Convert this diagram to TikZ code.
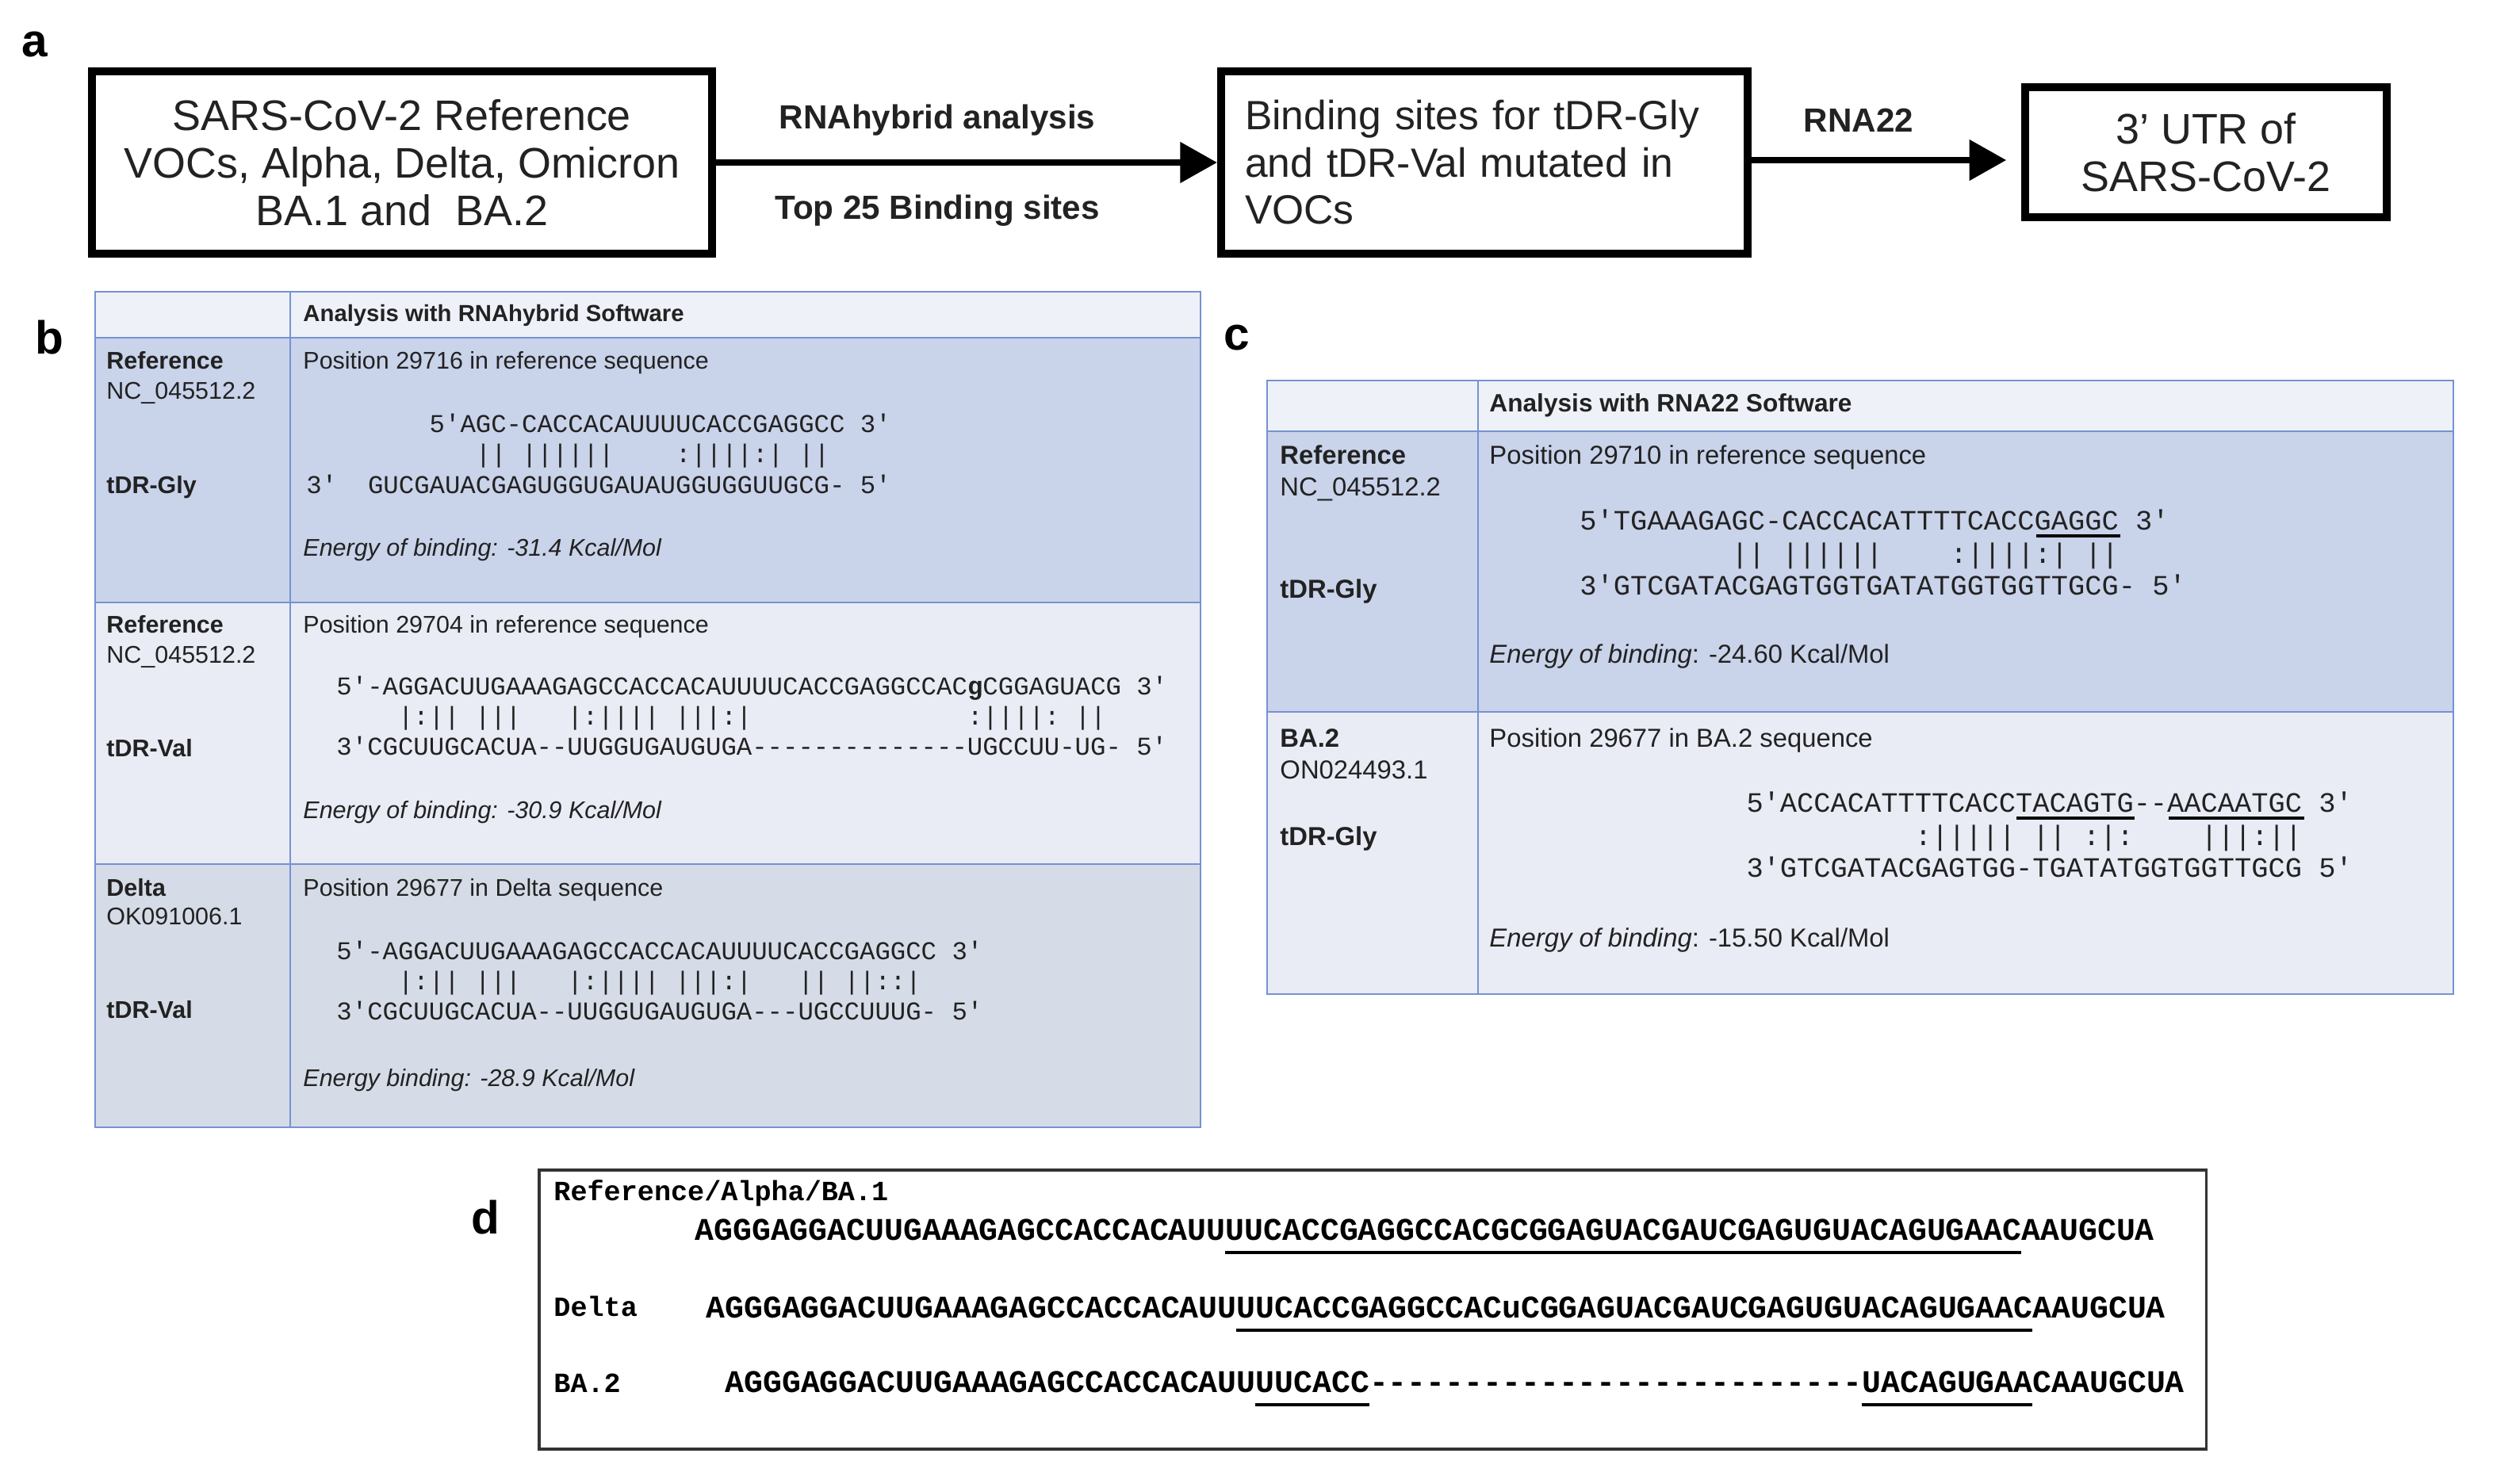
\documentclass[tikz,border=0pt]{standalone}
\usepackage{fontspec}
\setmainfont{Liberation Sans}
\setmonofont{Liberation Mono}
\usetikzlibrary{arrows.meta,calc}
\definecolor{bord}{HTML}{7592D2}
\definecolor{rowA}{HTML}{C9D3EA}
\definecolor{rowB}{HTML}{E9ECF5}
\definecolor{rowC}{HTML}{D6DCE7}
\definecolor{hdr}{HTML}{EFF1F8}
\definecolor{ink}{HTML}{222222}
\newcommand{\fs}[1]{\fontsize{#1}{1.2\dimexpr#1pt\relax}\selectfont}
\begin{document}
\begin{tikzpicture}[x=0.03cm,y=-0.03cm,
  bigbox/.style={draw=black,line width=4.3pt,minimum height=3.45cm,inner sep=0.2cm,font=\fs{23},text=ink},
  arr/.style={line width=3.5pt,-{Triangle[length=0.7cm,width=0.75cm]}},
  alab/.style={font=\bfseries\fs{18},text=ink},
  plab/.style={font=\bfseries\fs{25}},
  tb/.style={anchor=base west,inner sep=0,font=\fs{13},text=ink},
  tc/.style={anchor=base west,inner sep=0,font=\fs{14},text=ink},
  sb/.style={anchor=base west,inner sep=0,font=\ttfamily\fs{13.8},text=ink},
  sc/.style={anchor=base west,inner sep=0,font=\ttfamily\fs{15.1},text=ink},
  sd/.style={anchor=base west,inner sep=0,font=\ttfamily\bfseries\fs{17},text=black},
  ld/.style={anchor=base west,inner sep=0,font=\ttfamily\bfseries\fs{15},text=black},
  tline/.style={draw=bord,line width=1.2pt},
  ul/.style={line width=2pt}]
\useasboundingbox (0,0) rectangle (1572,936);
\fill[white] (0,0) rectangle (1572,936);
% panel a
\node[plab] (la) at (22,28) {a};
\node[bigbox,minimum width=11.73cm,align=center] (b1) at (253.5,102.5)
  {SARS-CoV-2 Reference\\[-2pt]VOCs, Alpha, Delta, Omicron\\[-2pt]BA.1 and\ \ BA.2};
\node[bigbox,font=\fs{22},text width=9.06cm,inner sep=0.45cm,align=left] (b2) at (936,102.5)
  {Binding sites for tDR-Gly\\[-1pt]and tDR-Val mutated in\\[-1pt]VOCs};
\node[bigbox,minimum width=6.84cm,minimum height=2.46cm,align=center] (b3) at (1391,96)
  {3' UTR of\\[-2pt]SARS-CoV-2};
\draw[arr] (b1.east) -- (b2.west);
\draw[arr,shorten >=8] (b2.east |- 0,101) -- (b3.west |- 0,101);
\node[alab] (t1) at (591,76) {RNAhybrid analysis};
\node[alab] (t2) at (591,133) {Top 25 Binding sites};
\node[alab] (t3) at (1172,76) {RNA22};
% panel b
\node[plab] (lb) at (31,213) {b};
\fill[hdr] (60,184) rectangle (757,213);
\fill[rowA] (60,213) rectangle (757,380);
\fill[rowB] (60,380) rectangle (757,545);
\fill[rowC] (60,545) rectangle (757,711);
\draw[tline] (60,184) rectangle (757,711);
\draw[tline] (183,184) -- (183,711);
\draw[tline] (60,213) -- (757,213) (60,380) -- (757,380) (60,545) -- (757,545);
\node[tb,font=\bfseries\fs{12.5}] (bh) at (191,203) {Analysis with RNAhybrid Software};
\node[tb] (b1a) at (67,233) {\textbf{Reference}};
\node[tb] (b1b) at (67,252) {NC\_045512.2};
\node[tb] (b1c) at (67,311) {\textbf{tDR-Gly}};
\node[tb] (b1d) at (191,233) {Position 29716 in reference sequence};
\node[sb] (s11) at (193,273) {~~~~~~~~5'AGC-CACCACAUUUUCACCGAGGCC~3'};
\node[sb] (s12) at (193,292) {~~~~~~~~~~~||~||||||~~~~:||||:|~||};
\node[sb] (s13) at (193,311) {3'~~GUCGAUACGAGUGGUGAUAUGGUGGUUGCG-~5'};
\node[tb] (b1e) at (191,351) {\itshape Energy of binding: -31.4 Kcal/Mol};
\node[tb] (b2a) at (67,399) {\textbf{Reference}};
\node[tb] (b2b) at (67,418) {NC\_045512.2};
\node[tb] (b2c) at (67,477) {\textbf{tDR-Val}};
\node[tb] (b2d) at (191,399) {Position 29704 in reference sequence};
\node[sb] (s21) at (212,438) {5'-AGGACUUGAAAGAGCCACCACAUUUUCACCGAGGCCAC\textbf{g}CGGAGUACG~3'};
\node[sb] (s22) at (212,457) {~~~~|:||~|||~~~|:||||~|||:|~~~~~~~~~~~~~~:||||:~||};
\node[sb] (s23) at (212,476) {3'CGCUUGCACUA--UUGGUGAUGUGA--------------UGCCUU-UG-~5'};
\node[tb] (b2e) at (191,516) {\itshape Energy of binding: -30.9 Kcal/Mol};
\node[tb] (b3a) at (67,565) {\textbf{Delta}};
\node[tb] (b3b) at (67,583) {OK091006.1};
\node[tb] (b3c) at (67,642) {\textbf{tDR-Val}};
\node[tb] (b3d) at (191,565) {Position 29677 in Delta sequence};
\node[sb] (s31) at (212,605) {5'-AGGACUUGAAAGAGCCACCACAUUUUCACCGAGGCC~3'};
\node[sb] (s32) at (212,624) {~~~~|:||~|||~~~|:||||~|||:|~~~||~||::|};
\node[sb] (s33) at (212,643) {3'CGCUUGCACUA--UUGGUGAUGUGA---UGCCUUUG-~5'};
\node[tb] (b3e) at (191,685) {\itshape Energy binding: -28.9 Kcal/Mol};
% panel c
\node[plab] (lc) at (780,213) {c};
\fill[hdr] (799,240) rectangle (1547,272);
\fill[rowA] (799,272) rectangle (1547,449);
\fill[rowB] (799,449) rectangle (1547,627);
\draw[tline] (799,240) rectangle (1547,627);
\draw[tline] (932,240) -- (932,627);
\draw[tline] (799,272) -- (1547,272) (799,449) -- (1547,449);
\node[tc,font=\bfseries\fs{13.5}] (ch) at (939,260) {Analysis with RNA22 Software};
\node[tc] (c1a) at (807,293) {\textbf{Reference}};
\node[tc] (c1b) at (807,313) {NC\_045512.2};
\node[tc] (c1c) at (807,377) {\textbf{tDR-Gly}};
\node[tc] (c1d) at (939,293) {Position 29710 in reference sequence};
\node[sc] (s41) at (996,334) {5'TGAAAGAGC-CACCACATTTTCACCGAGGC~3'};
\node[sc] (s42) at (996,355) {~~~~~~~~~||~||||||~~~~:||||:|~||};
\node[sc] (s43) at (996,375) {3'GTCGATACGAGTGGTGATATGGTGGTTGCG-~5'};
\draw[ul] ($(s41.base west)+(27*10.66,4)$) -- ++(5*10.66,0);
\node[tc] (c1e) at (939,418) {\itshape Energy of binding\upshape: -24.60 Kcal/Mol};
\node[tc] (c2a) at (807,471) {\textbf{BA.2}};
\node[tc] (c2b) at (807,491) {ON024493.1};
\node[tc] (c2c) at (807,533) {\textbf{tDR-Gly}};
\node[tc] (c2d) at (939,471) {Position 29677 in BA.2 sequence};
\node[sc] (s51) at (1101,512) {5'ACCACATTTTCACCTACAGTG--AACAATGC~3'};
\node[sc] (s52) at (1101,533) {~~~~~~~~~~:|||||~||~:|:~~~~|||:||};
\node[sc] (s53) at (1101,553) {3'GTCGATACGAGTGG-TGATATGGTGGTTGCG~5'};
\draw[ul] ($(s51.base west)+(16*10.66,4)$) -- ++(7*10.66,0);
\draw[ul] ($(s51.base west)+(25*10.66,4)$) -- ++(8*10.66,0);
\node[tc] (c2e) at (939,597) {\itshape Energy of binding\upshape: -15.50 Kcal/Mol};
% panel d
\node[plab] (ldd) at (306,768) {d};
\draw[line width=1.3pt,draw=black!80] (340,738) rectangle (1391,914);
\node[ld] (d1) at (349,757) {Reference/Alpha/BA.1};
\node[sd] (q1) at (438,782) {AGGGAGGACUUGAAAGAGCCACCACAUUUUCACCGAGGCCACGCGGAGUACGAUCGAGUGUACAGUGAACAAUGCUA};
\draw[ul] ($(q1.base west)+(28*11.95,8)$) -- ++(42*11.95,0);
\node[ld] (d2) at (349,830) {Delta};
\node[sd] (q2) at (445,831) {AGGGAGGACUUGAAAGAGCCACCACAUUUUCACCGAGGCCACuCGGAGUACGAUCGAGUGUACAGUGAACAAUGCUA};
\draw[ul] ($(q2.base west)+(28*11.95,8)$) -- ++(42*11.95,0);
\node[ld] (d3) at (349,878) {BA.2};
\node[sd] (q3) at (457,878) {AGGGAGGACUUGAAAGAGCCACCACAUUUUCACC--------------------------UACAGUGAACAAUGCUA};
\draw[ul] ($(q3.base west)+(28*11.95,8)$) -- ++(6*11.95,0);
\draw[ul] ($(q3.base west)+(60*11.95,8)$) -- ++(9*11.95,0);
\end{tikzpicture}
\end{document}
